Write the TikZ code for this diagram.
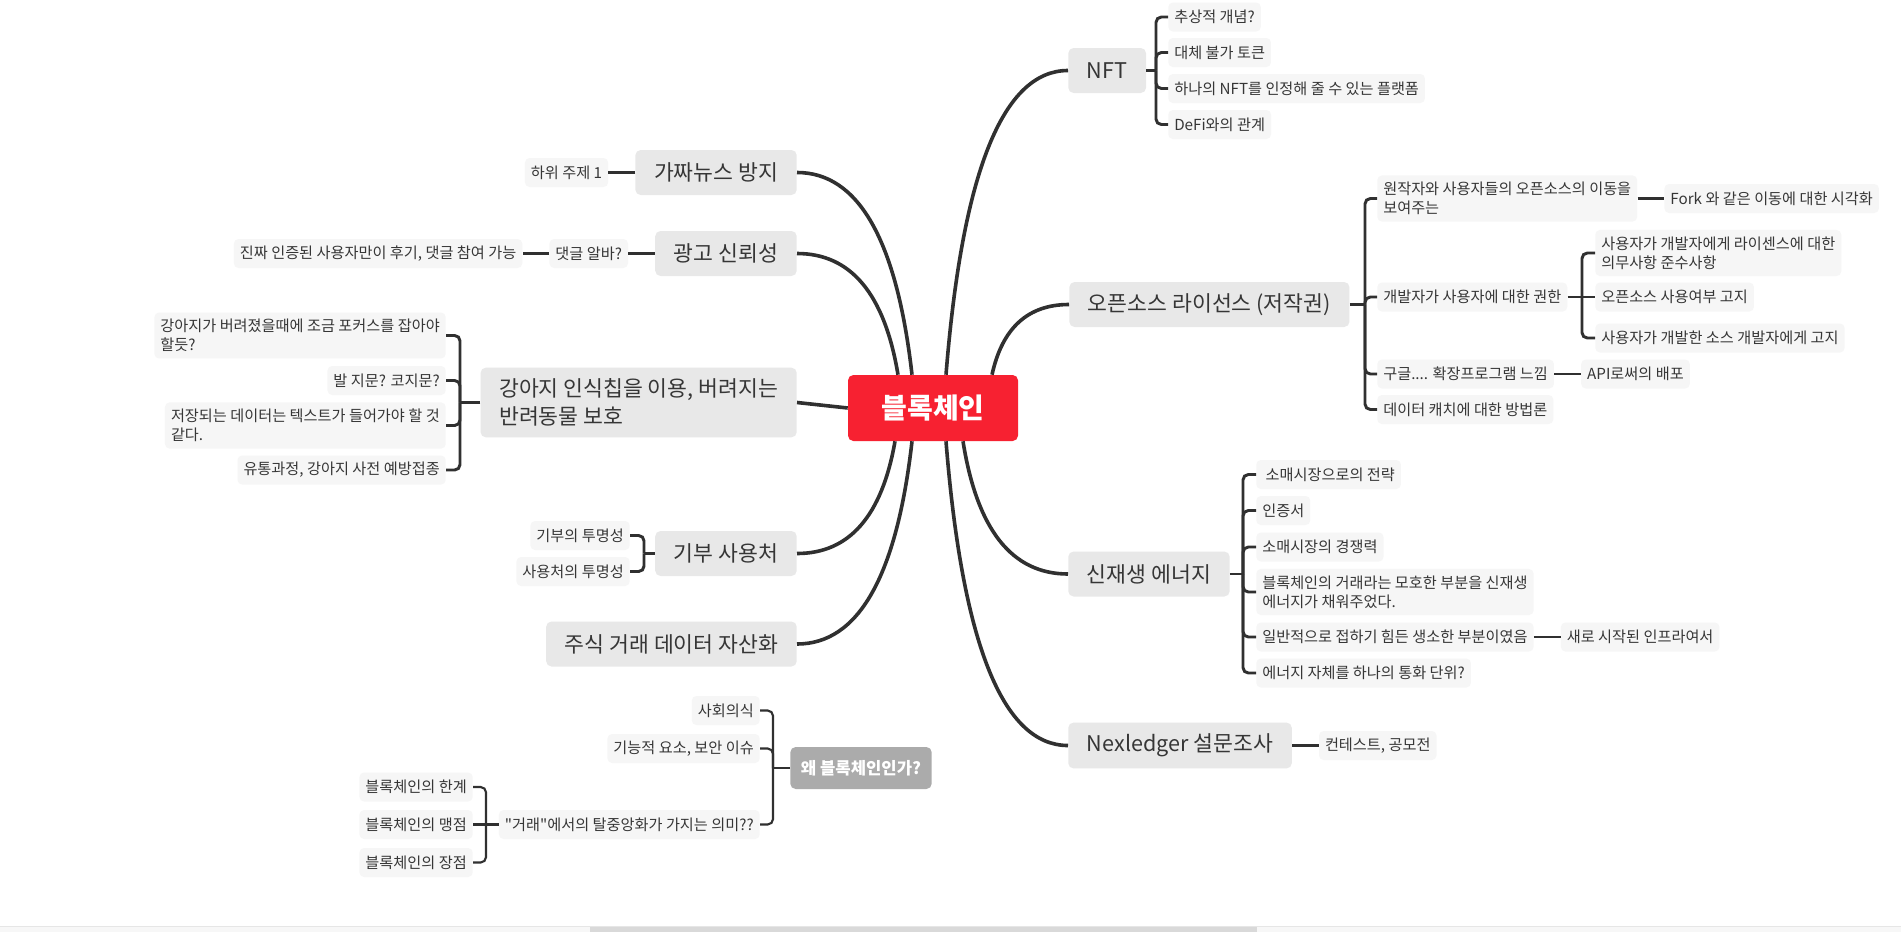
\documentclass[tikz,border=0pt]{standalone}
\usepackage{fontspec}
\setmainfont{Noto Sans CJK KR}[Ligatures=TeXOff]
\usetikzlibrary{calc,positioning}

\definecolor{rootred}{HTML}{F72131}
\definecolor{topicgray}{HTML}{E8E8E8}
\definecolor{leafgray}{HTML}{F6F6F6}
\definecolor{floatgray}{HTML}{ABABAB}
\definecolor{inkgray}{HTML}{363636}
\definecolor{barline}{HTML}{303030}
\definecolor{scrolltrack}{HTML}{F7F7F7}
\definecolor{scrolledge}{HTML}{E6E6E6}
\definecolor{scrollthumb}{HTML}{D9D9D9}

\begin{document}
\begin{tikzpicture}[x=0.75pt, y=-0.75pt,
    root/.style={rectangle, rounded corners=4pt, fill=rootred, text=white,
        font=\fontsize{21pt}{25pt}\selectfont\bfseries, minimum width=127.5pt, minimum height=49.5pt},
    topic/.style={rectangle, rounded corners=4pt, fill=topicgray, text=inkgray,
        font=\fontsize{16.2pt}{20.5pt}\selectfont, inner xsep=14pt, inner ysep=8.5pt, minimum height=33.75pt},
    leaf/.style={rectangle, rounded corners=3.5pt, fill=leafgray, text=inkgray,
        font=\fontsize{11.4pt}{14.2pt}\selectfont, inner xsep=4.5pt, inner ysep=5pt, minimum height=21.75pt},
    floater/.style={rectangle, rounded corners=4pt, fill=floatgray, text=white,
        font=\fontsize{12.5pt}{14pt}\selectfont\bfseries, inner xsep=8pt, minimum height=31.5pt},
    branch/.style={draw=barline, line width=2.7pt,
        to path={let \p1=($(\tikztostart|-\tikztotarget)!0.2!(\tikztotarget)$) in
            .. controls ($(\tikztostart)!0.667!(\p1)$) and ($(\tikztotarget)!0.667!(\p1)$) .. (\tikztotarget)}},
    brace/.style={draw=barline, line width=2.2pt, rounded corners=4pt},
    thinbrace/.style={brace, line width=1.6pt}
]
    \useasboundingbox (0,0) rectangle (1901,932);
    \fill[white] (0,0) rectangle (1901,932);

    \node[root] (bc) at (933,408) {블록체인};

    \node[topic, anchor=west] (nft) at (1068,70.5) {NFT};
    \node[topic, anchor=west] (oss) at (1069,304.5) {오픈소스 라이선스 (저작권)};
    \node[topic, anchor=west] (res) at (1068,574) {신재생 에너지};
    \node[topic, anchor=west] (nex) at (1068,745.5) {Nexledger 설문조사};

    \node[topic, anchor=east] (fake) at (797,172.5) {가짜뉴스 방지};
    \node[topic, anchor=east] (ad) at (797,253.5) {광고 신뢰성};
    \node[topic, anchor=east, align=left] (dog) at (797,402.5) {강아지 인식칩을 이용, 버려지는\\반려동물 보호};
    \node[topic, anchor=east] (don) at (797,553.5) {기부 사용처};
    \node[topic, anchor=east] (stk) at (797,644) {주식 거래 데이터 자산화};

    \node[floater] (why) at (861,768) {왜 블록체인인가?};

    \node[leaf, anchor=west] (nft1) at (1168,17) {추상적 개념?};
    \node[leaf, anchor=west] (nft2) at (1168,52.5) {대체 불가 토큰};
    \node[leaf, anchor=west] (nft3) at (1168,88.5) {하나의 NFT를 인정해 줄 수 있는 플랫폼};
    \node[leaf, anchor=west] (nft4) at (1168,124.5) {DeFi와의 관계};

    \node[leaf, anchor=west, align=left] (oss1) at (1377,198.5) {원작자와 사용자들의 오픈소스의 이동을\\보여주는};
    \node[leaf, right=20pt of oss1] (oss1a) {Fork 와 같은 이동에 대한 시각화};
    \node[leaf, anchor=west] (oss2) at (1377,297) {개발자가 사용자에 대한 권한};
    \node[leaf, anchor=west, align=left] (oss2a) at (1595,253) {사용자가 개발자에게 라이센스에 대한\\의무사항 준수사항};
    \node[leaf, anchor=west] (oss2b) at (1595,297) {오픈소스 사용여부 고지};
    \node[leaf, anchor=west] (oss2c) at (1595,338) {사용자가 개발한 소스 개발자에게 고지};
    \node[leaf, anchor=west] (oss3) at (1377,374) {구글.... 확장프로그램 느낌};
    \node[leaf, right=20pt of oss3] (oss3a) {API로써의 배포};
    \node[leaf, anchor=west] (oss4) at (1377,409.5) {데이터 캐치에 대한 방법론};

    \node[leaf, anchor=west] (res1) at (1256,474.5) {\ 소매시장으로의 전략};
    \node[leaf, anchor=west] (res2) at (1256,510.5) {인증서};
    \node[leaf, anchor=west] (res3) at (1256,547) {소매시장의 경쟁력};
    \node[leaf, anchor=west, align=left] (res4) at (1256,592) {블록체인의 거래라는 모호한 부분을 신재생\\에너지가 채워주었다.};
    \node[leaf, anchor=west] (res5) at (1256,637) {일반적으로 접하기 힘든 생소한 부분이였음};
    \node[leaf, right=20pt of res5] (res5a) {새로 시작된 인프라여서};
    \node[leaf, anchor=west] (res6) at (1256,673) {에너지 자체를 하나의 통화 단위?};

    \node[leaf, right=20pt of nex] (nex1) {컨테스트, 공모전};

    \node[leaf, left=20pt of fake] (fake1) {하위 주제 1};
    \node[leaf, left=20pt of ad] (ad1) {댓글 알바?};
    \node[leaf, left=20pt of ad1] (ad1a) {진짜 인증된 사용자만이 후기, 댓글 참여 가능};

    \node[leaf, anchor=east, align=left] (dog1) at (446,335.5) {강아지가 버려졌을때에 조금 포커스를 잡아야\\할듯?};
    \node[leaf, anchor=east] (dog2) at (446,380.5) {발 지문? 코지문?};
    \node[leaf, anchor=east, align=left] (dog3) at (446,425.5) {저장되는 데이터는 텍스트가 들어가야 할 것\\같다.};
    \node[leaf, anchor=east] (dog4) at (446,470) {유통과정, 강아지 사전 예방접종};

    \node[leaf, anchor=east] (don1) at (630,535.5) {기부의 투명성};
    \node[leaf, anchor=east] (don2) at (630,571.5) {사용처의 투명성};

    \node[leaf, anchor=east] (why1) at (760,710.5) {사회의식};
    \node[leaf, anchor=east] (why2) at (760,748.5) {기능적 요소, 보안 이슈};
    \node[leaf, anchor=east] (why3) at (760,824.5) {"거래"에서의 탈중앙화가 가지는 의미??};
    \node[leaf, anchor=east] (why3a) at (473,787) {블록체인의 한계};
    \node[leaf, anchor=east] (why3b) at (473,824.5) {블록체인의 맹점};
    \node[leaf, anchor=east] (why3c) at (473,862.5) {블록체인의 장점};

    \coordinate (sfake) at ($(bc.north)+(-21,0)$);
    \coordinate (sad) at ($(bc.north)+(-35,0)$);
    \coordinate (snft) at ($(bc.north)+(13,0)$);
    \coordinate (soss) at ($(bc.north)+(59,0)$);
    \coordinate (sdon) at ($(bc.south)+(-38,0)$);
    \coordinate (sstk) at ($(bc.south)+(-21,0)$);
    \coordinate (snex) at ($(bc.south)+(13,0)$);
    \coordinate (sres) at ($(bc.south)+(30,0)$);

    \foreach \src/\dst in {sfake/fake.east, sad/ad.east, snft/nft.west, soss/oss.west,
                           sdon/don.east, sstk/stk.east, snex/nex.west, sres/res.west}
        \draw[branch] (\src) to (\dst);
    \draw[branch] (dog.east) -- (bc.west);

    \coordinate (nftbar) at (1156,70.5);
    \coordinate (ossbar) at (1365,304.5);
    \coordinate (oss2bar) at (1582,297);
    \coordinate (resbar) at (1243,574);
    \coordinate (dogbar) at (460,402.5);
    \coordinate (donbar) at (644,553.5);
    \coordinate (whybar) at (773,768);
    \coordinate (why3bar) at (486,824.5);

    \draw[brace] (nft.east) -- (nftbar);
    \foreach \c in {nft1,nft2,nft3,nft4}
        \draw[brace] (nftbar) |- (\c.west);
    \draw[brace] (oss.east) -- (ossbar);
    \foreach \c in {oss1,oss2,oss3,oss4}
        \draw[brace] (ossbar) |- (\c.west);
    \draw[brace] (oss2.east) -- (oss2bar) -- (oss2b.west);
    \foreach \c in {oss2a,oss2c}
        \draw[brace] (oss2bar) |- (\c.west);
    \draw[brace] (res.east) -- (resbar);
    \foreach \c in {res1,res2,res3,res4,res5,res6}
        \draw[brace] (resbar) |- (\c.west);
    \draw[brace] (dog.west) -- (dogbar);
    \foreach \c in {dog1,dog2,dog3,dog4}
        \draw[brace] (dogbar) |- (\c.east);
    \draw[brace] (don.west) -- (donbar);
    \foreach \c in {don1,don2}
        \draw[brace] (donbar) |- (\c.east);

    \draw[brace] (oss1.east) -- (oss1a.west);
    \draw[brace] (oss3.east) -- (oss3a.west);
    \draw[brace] (res5.east) -- (res5a.west);
    \draw[brace] (nex.east) -- (nex1.west);
    \draw[brace] (fake.west) -- (fake1.east);
    \draw[brace] (ad.west) -- (ad1.east);
    \draw[brace] (ad1.west) -- (ad1a.east);

    \draw[thinbrace] (why.west) -- (whybar);
    \foreach \c in {why1,why2,why3}
        \draw[thinbrace] (whybar) |- (\c.east);
    \draw[thinbrace] (why3.west) -- (why3bar) -- (why3b.east);
    \foreach \c in {why3a,why3c}
        \draw[thinbrace] (why3bar) |- (\c.east);

    \fill[scrolltrack] (0,926) rectangle (1901,932);
    \draw[scrolledge, line width=0.75pt] (0,926) -- (1901,926);
    \fill[scrollthumb] (590,927) rectangle (1257,932);
\end{tikzpicture}
\end{document}
